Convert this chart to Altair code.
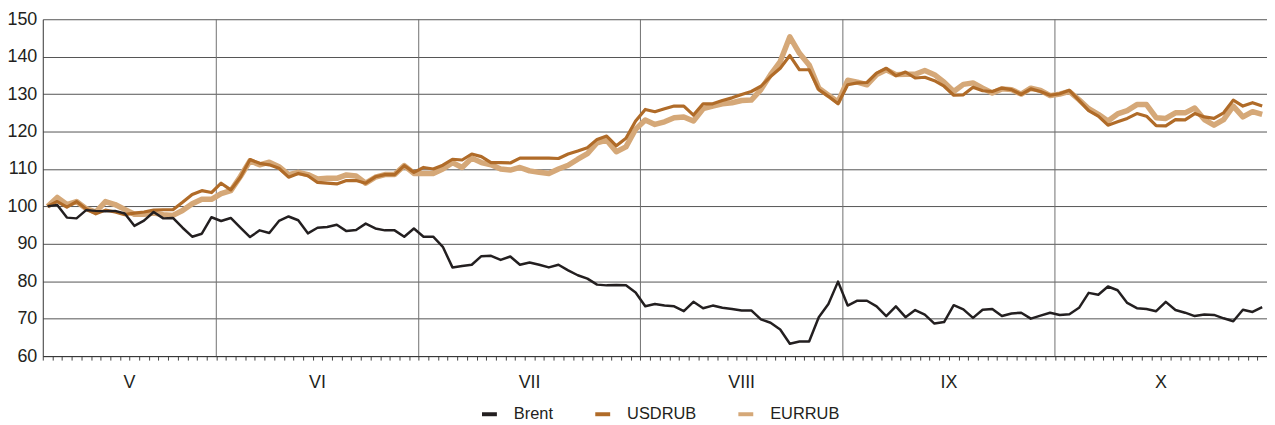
import altair as alt
import pandas as pd

# Months (Russian trading days per month, May..October)
months = ["V", "VI", "VII", "VIII", "IX", "X"]
month_days = [18, 21, 23, 21, 22, 22]

series_names = ["Brent", "USDRUB", "EURRUB"]
series_colors = ["#231f20", "#b06b28", "#d5a878"]
series_widths = [2.5, 3.2, 5.5]

brent = [100.0, 100.4, 97.0, 96.8, 99.0, 98.8, 98.7, 98.8, 98.1, 94.8,
         96.2, 98.5, 96.8, 96.9, 94.3, 91.9, 92.7, 97.1, 96.1, 96.9,
         94.3, 91.8, 93.6, 92.9, 96.1, 97.3, 96.3, 92.8, 94.3, 94.5,
         95.1, 93.4, 93.7, 95.4, 94.1, 93.6, 93.6, 91.9, 94.1, 91.9,
         91.9, 89.2, 83.7, 84.1, 84.4, 86.7, 86.8, 85.7, 86.6, 84.4,
         85.0, 84.4, 83.7, 84.4, 82.9, 81.6, 80.7, 79.1, 78.9, 79.0,
         78.9, 77.0, 73.3, 73.9, 73.5, 73.3, 72.0, 74.5, 72.8, 73.5,
         72.9, 72.6, 72.2, 72.2, 69.8, 68.9, 67.1, 63.3, 63.9, 63.9,
         70.4, 73.9, 79.9, 73.5, 74.8, 74.8, 73.3, 70.7, 73.3, 70.4,
         72.3, 71.1, 68.7, 69.1, 73.6, 72.5, 70.2, 72.4, 72.6, 70.7,
         71.4, 71.6, 70.0, 70.8, 71.6, 71.0, 71.2, 72.9, 76.9, 76.4,
         78.6, 77.6, 74.2, 72.8, 72.6, 72.0, 74.5, 72.3, 71.6, 70.7,
         71.1, 71.0, 70.1, 69.3, 72.4, 71.8, 73.1]

usdrub = [100.0, 101.3, 99.8, 101.3, 99.3, 98.0, 99.0, 98.5, 97.8, 98.2,
          98.5, 99.0, 99.1, 99.1, 101.1, 103.2, 104.2, 103.7, 106.2, 104.4,
          107.8, 112.5, 111.5, 111.1, 110.2, 107.8, 108.8, 108.2, 106.4, 106.2,
          106.0, 106.9, 106.9, 106.2, 107.9, 108.5, 108.5, 110.9, 109.1, 110.4,
          110.0, 111.0, 112.6, 112.4, 114.0, 113.3, 111.7, 111.7, 111.6, 112.9,
          112.9, 112.9, 112.9, 112.8, 114.0, 114.8, 115.7, 117.9, 118.8, 116.2,
          118.2, 122.8, 125.9, 125.3, 126.1, 126.8, 126.8, 124.4, 127.4, 127.4,
          128.3, 129.0, 129.9, 130.7, 132.1, 134.7, 136.9, 140.3, 136.5, 136.5,
          131.2, 129.4, 127.4, 132.5, 133.0, 133.1, 135.6, 136.9, 134.9, 135.9,
          134.3, 134.5, 133.6, 132.1, 129.7, 129.8, 131.8, 130.9, 130.7, 131.6,
          131.2, 129.9, 131.4, 130.7, 129.7, 130.1, 131.0, 128.3, 125.6, 124.1,
          121.7, 122.6, 123.5, 124.8, 124.1, 121.6, 121.5, 123.2, 123.1, 124.8,
          123.9, 123.5, 125.0, 128.4, 126.8, 127.7, 126.8]

eurrub = [100.0, 102.4, 100.5, 101.3, 99.4, 98.5, 101.3, 100.5, 99.2, 97.9,
          97.9, 98.2, 97.8, 97.6, 98.9, 100.7, 101.9, 101.9, 103.4, 104.2,
          108.0, 112.2, 111.1, 111.8, 110.6, 108.5, 109.1, 108.5, 107.3, 107.5,
          107.5, 108.4, 108.1, 106.2, 107.8, 108.5, 108.5, 110.9, 108.8, 108.8,
          108.8, 110.0, 111.7, 110.4, 112.9, 111.7, 111.1, 110.0, 109.7, 110.4,
          109.5, 109.1, 108.8, 110.0, 111.0, 112.6, 114.1, 117.0, 117.7, 114.6,
          115.9, 120.6, 123.1, 121.9, 122.6, 123.7, 123.9, 122.8, 126.1, 126.8,
          127.4, 127.7, 128.3, 128.4, 131.2, 135.2, 138.7, 145.3, 140.9, 137.8,
          131.6, 129.7, 127.9, 133.7, 133.2, 132.5, 135.2, 136.5, 135.2, 135.3,
          135.3, 136.3, 135.2, 133.2, 130.7, 132.6, 133.0, 131.6, 130.3, 131.4,
          131.2, 130.0, 131.6, 131.0, 129.6, 130.0, 130.7, 128.5, 126.1, 124.6,
          122.8, 124.7, 125.6, 127.2, 127.2, 123.7, 123.5, 125.0, 125.0, 126.3,
          123.2, 121.7, 123.2, 126.8, 123.9, 125.3, 124.6]

y_ticks = [60, 70, 80, 90, 100, 110, 120, 130, 140, 150]

FONT = "Liberation Sans"
DARK = "#231f20"

# ---- tables built from the lists ----
rows = []
for name, vals in zip(series_names, [brent, usdrub, eurrub]):
    for i, v in enumerate(vals):
        rows.append({"day": i + 0.5, "value": v, "series": name})
df = pd.DataFrame(rows)

bounds = [0]
for d in month_days:
    bounds.append(bounds[-1] + d)
total = bounds[-1]
month_df = pd.DataFrame({
    "month": months,
    "center": [(bounds[k] + bounds[k + 1]) / 2 for k in range(len(months))],
})
bound_df = pd.DataFrame({"b": bounds[1:-1]})

xscale = alt.Scale(domain=[0, total], nice=False, zero=False)
yscale = alt.Scale(domain=[60, 150], nice=False, zero=False)
color_scale = alt.Scale(domain=series_names, range=series_colors)

x_axis = alt.Axis(values=list(range(total + 1)), labels=False, ticks=True,
                  tickSize=4, tickColor="#444444", tickWidth=1, domain=True,
                  domainColor="#333333", domainWidth=1, grid=False, title=None)
y_axis = alt.Axis(values=y_ticks, title=None, grid=True, gridColor="#555555",
                  gridWidth=1, ticks=False, domain=True, domainColor="#333333",
                  labelFont=FONT, labelFontSize=18, labelColor=DARK,
                  labelPadding=6)

legend = alt.Legend(
    title=None, orient="none", direction="horizontal",
    legendX=440, legendY=388,
    symbolType="stroke", symbolSize=225, symbolStrokeWidth=4,
    labelFont=FONT, labelFontSize=16.5, labelColor=DARK,
    labelOffset=15, columnPadding=34,
)

rules = alt.Chart(bound_df).mark_rule(color="#707070", strokeWidth=1).encode(
    x=alt.X("b:Q", scale=xscale, axis=x_axis),
)

def line_layer(idx):
    name = series_names[idx]
    return alt.Chart(df).transform_filter(alt.datum.series == name).mark_line(
        strokeWidth=series_widths[idx], strokeJoin="round").encode(
        x=alt.X("day:Q", scale=xscale, axis=x_axis),
        y=alt.Y("value:Q", scale=yscale, axis=y_axis),
        color=alt.Color("series:N", scale=color_scale, legend=legend),
    )

month_text = alt.Chart(month_df).mark_text(
    font=FONT, fontSize=18, color=DARK, baseline="middle", align="center"
).encode(
    x=alt.X("center:Q", scale=xscale, axis=x_axis),
    y=alt.value(366),
    text="month:N",
)

chart = alt.layer(
    rules,
    line_layer(2),
    line_layer(1),
    line_layer(0),
    month_text,
).properties(
    width=1232, height=339,
    background="white",
    autosize=alt.AutoSizeParams(type="none"),
    padding={"left": 35, "top": 10, "right": 0, "bottom": 66},
).configure_view(stroke=None)

chart.save("out.html", embed_options={"renderer": "svg", "actions": False})
